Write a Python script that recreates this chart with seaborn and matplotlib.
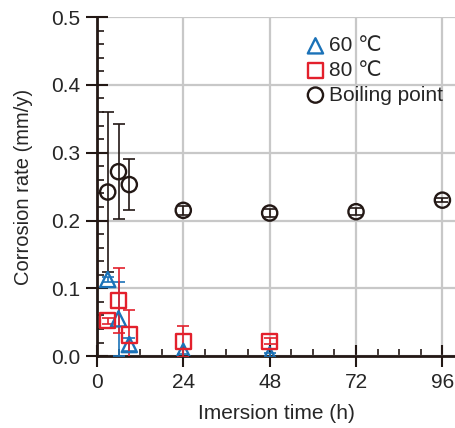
import numpy as np
import pandas as pd
import matplotlib
matplotlib.use("Agg")
import matplotlib.pyplot as plt
import seaborn as sns
from matplotlib.ticker import MultipleLocator

# data
t60 = [3, 6, 9, 24, 48]
r60 = [0.113, 0.055, 0.017, 0.007, 0.002]
e60 = [0.004, 0.055, 0.010, 0.004, 0.003]

t80 = [3, 6, 9, 24, 48]
r80 = [0.052, 0.082, 0.031, 0.022, 0.022]
e80 = [0.004, 0.048, 0.037, 0.023, 0.004]

tbp = [3, 6, 9, 24, 48, 72, 96]
rbp = [0.242, 0.272, 0.253, 0.215, 0.211, 0.213, 0.230]
ebp = [0.118, 0.070, 0.037, 0.007, 0.006, 0.005, 0.003]

labels = ["60 \u2103", "80 \u2103", "Boiling point"]
colors = ["#1b72b8", "#e3202c", "#231815"]
markers = ["^", "s", "o"]

sns.set_style("white")
plt.rcParams["font.family"] = ["Liberation Sans", "DejaVu Sans"]

fig = plt.figure(figsize=(4.55, 4.28), dpi=100)
ax = fig.add_axes([0.213, 0.168, 0.787, 0.792])

series = [(t60, r60, e60), (t80, r80, e80), (tbp, rbp, ebp)]
for (t, r, e), lab, c, m in zip(series, labels, colors, markers):
    ax.errorbar(t, r, yerr=e, fmt="none", ecolor=c, elinewidth=1.2,
                capsize=4, capthick=1.2, zorder=3)
    df = pd.DataFrame({"t": t, "r": r})
    sns.scatterplot(data=df, x="t", y="r", ax=ax, marker=m, s=120,
                    facecolor="none", edgecolor=c, linewidth=1.7,
                    label=lab, zorder=4)

ax.set_xlim(0, 99.5)
ax.set_ylim(0, 0.5)
ax.set_xticks([0, 24, 48, 72, 96])
ax.set_yticks(np.arange(0, 0.51, 0.1))
ax.set_yticklabels(["0.0", "0.1", "0.2", "0.3", "0.4", "0.5"])
ax.xaxis.set_minor_locator(MultipleLocator(6))
ax.yaxis.set_minor_locator(MultipleLocator(0.02))
ax.grid(True, which="major", color="#c8c8c8", linewidth=1.6, zorder=0)
ax.set_axisbelow(True)

for s in ["top", "right"]:
    ax.spines[s].set_visible(False)
for s in ["left", "bottom"]:
    ax.spines[s].set_color("#231815")
    ax.spines[s].set_linewidth(2)

ax.tick_params(which="major", direction="inout", length=16, width=1.5,
               labelsize=15, pad=4, color="#231815", bottom=True, left=True)
ax.tick_params(which="minor", direction="in", length=5, width=1.2,
               color="#231815", bottom=True, left=True)

ax.set_xlabel("Imersion time (h)", fontsize=15, labelpad=9)
ax.set_ylabel("Corrosion rate (mm/y)", fontsize=14.5, labelpad=13)

leg = ax.legend(loc="upper left", bbox_to_anchor=(0.555, 0.968), frameon=False,
                fontsize=15, handletextpad=0.1, labelspacing=0.27,
                borderaxespad=0, handlelength=1.1)

fig.savefig("out.png", dpi=100)
